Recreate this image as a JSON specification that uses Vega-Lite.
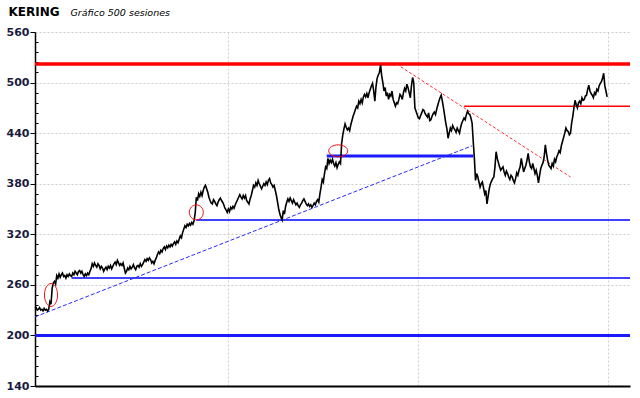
{
"$schema": "https://vega.github.io/schema/vega-lite/v6.json",
"width": 595, "height": 354,
"autosize": "none",
"padding": {"left": 35, "top": 32, "right": 10, "bottom": 12},
"background": "white",
"config": {"view": {"stroke": null}},
"datasets": {
"levels": [
{"kind": "redThick", "s": 0, "s2": 520, "p": 522},
{"kind": "blueThick", "s": 0, "s2": 520, "p": 200},
{"kind": "blueThick", "s": 255, "s2": 383, "p": 413},
{"kind": "blueThin", "s": 32, "s2": 520, "p": 268},
{"kind": "blueThin", "s": 141, "s2": 520, "p": 337},
{"kind": "redThin", "s": 375, "s2": 520, "p": 472}
],
"trends": [
{"kind": "blue", "s": 0, "p": 222, "s2": 382, "p2": 425},
{"kind": "red", "s": 316, "p": 522, "s2": 468, "p2": 388}
],
"price": [
{"s":0,"p":232},{"s":1,"p":233},{"s":2,"p":230},{"s":3,"p":231},{"s":4,"p":233},{"s":5,"p":230},{"s":6,"p":231},{"s":7,"p":229},{"s":8,"p":232},{"s":9,"p":230},
{"s":10,"p":231},{"s":11,"p":229},{"s":12,"p":231},{"s":13,"p":240},{"s":14,"p":237},{"s":15,"p":256},{"s":16,"p":262},{"s":17,"p":264},{"s":18,"p":261},{"s":19,"p":271},
{"s":20,"p":268},{"s":21,"p":273},{"s":22,"p":269},{"s":23,"p":272},{"s":24,"p":274},{"s":25,"p":270},{"s":26,"p":271},{"s":27,"p":268},{"s":28,"p":272},{"s":29,"p":270},
{"s":30,"p":273},{"s":31,"p":271},{"s":32,"p":270},{"s":33,"p":274},{"s":34,"p":272},{"s":35,"p":276},{"s":36,"p":274},{"s":37,"p":272},{"s":38,"p":276},{"s":39,"p":277},
{"s":40,"p":274},{"s":41,"p":276},{"s":42,"p":272},{"s":43,"p":270},{"s":44,"p":273},{"s":45,"p":271},{"s":46,"p":274},{"s":47,"p":272},{"s":48,"p":276},{"s":49,"p":279},
{"s":50,"p":285},{"s":51,"p":282},{"s":52,"p":286},{"s":53,"p":283},{"s":54,"p":281},{"s":55,"p":285},{"s":56,"p":283},{"s":57,"p":279},{"s":58,"p":282},{"s":59,"p":280},
{"s":60,"p":276},{"s":61,"p":279},{"s":62,"p":281},{"s":63,"p":278},{"s":64,"p":282},{"s":65,"p":280},{"s":66,"p":283},{"s":67,"p":279},{"s":68,"p":282},{"s":69,"p":285},
{"s":70,"p":287},{"s":71,"p":284},{"s":72,"p":289},{"s":73,"p":286},{"s":74,"p":283},{"s":75,"p":285},{"s":76,"p":283},{"s":77,"p":286},{"s":78,"p":280},{"s":79,"p":274},
{"s":80,"p":276},{"s":81,"p":280},{"s":82,"p":278},{"s":83,"p":282},{"s":84,"p":279},{"s":85,"p":281},{"s":86,"p":284},{"s":87,"p":280},{"s":88,"p":278},{"s":89,"p":282},
{"s":90,"p":283},{"s":91,"p":281},{"s":92,"p":285},{"s":93,"p":282},{"s":94,"p":284},{"s":95,"p":287},{"s":96,"p":290},{"s":97,"p":288},{"s":98,"p":291},{"s":99,"p":289},
{"s":100,"p":292},{"s":101,"p":290},{"s":102,"p":286},{"s":103,"p":288},{"s":104,"p":285},{"s":105,"p":289},{"s":106,"p":292},{"s":107,"p":296},{"s":108,"p":299},{"s":109,"p":297},
{"s":110,"p":301},{"s":111,"p":299},{"s":112,"p":303},{"s":113,"p":305},{"s":114,"p":302},{"s":115,"p":306},{"s":116,"p":304},{"s":117,"p":307},{"s":118,"p":305},{"s":119,"p":308},
{"s":120,"p":306},{"s":121,"p":309},{"s":122,"p":311},{"s":123,"p":308},{"s":124,"p":312},{"s":125,"p":310},{"s":126,"p":314},{"s":127,"p":318},{"s":128,"p":316},{"s":129,"p":322},
{"s":130,"p":326},{"s":131,"p":330},{"s":132,"p":328},{"s":133,"p":332},{"s":134,"p":330},{"s":135,"p":333},{"s":136,"p":331},{"s":137,"p":334},{"s":138,"p":332},{"s":139,"p":336},
{"s":140,"p":345},{"s":141,"p":364},{"s":142,"p":360},{"s":143,"p":368},{"s":144,"p":365},{"s":145,"p":370},{"s":146,"p":366},{"s":147,"p":372},{"s":148,"p":376},{"s":149,"p":378},
{"s":150,"p":374},{"s":151,"p":370},{"s":152,"p":364},{"s":153,"p":360},{"s":154,"p":357},{"s":155,"p":356},{"s":156,"p":361},{"s":157,"p":359},{"s":158,"p":356},{"s":159,"p":354},
{"s":160,"p":358},{"s":161,"p":361},{"s":162,"p":363},{"s":163,"p":360},{"s":164,"p":358},{"s":165,"p":355},{"s":166,"p":351},{"s":167,"p":349},{"s":168,"p":346},{"s":169,"p":350},
{"s":170,"p":347},{"s":171,"p":352},{"s":172,"p":350},{"s":173,"p":353},{"s":174,"p":351},{"s":175,"p":355},{"s":176,"p":358},{"s":177,"p":361},{"s":178,"p":364},{"s":179,"p":367},
{"s":180,"p":364},{"s":181,"p":362},{"s":182,"p":366},{"s":183,"p":363},{"s":184,"p":366},{"s":185,"p":360},{"s":186,"p":358},{"s":187,"p":356},{"s":188,"p":362},{"s":189,"p":366},
{"s":190,"p":372},{"s":191,"p":378},{"s":192,"p":376},{"s":193,"p":381},{"s":194,"p":378},{"s":195,"p":384},{"s":196,"p":380},{"s":197,"p":377},{"s":198,"p":374},{"s":199,"p":377},
{"s":200,"p":380},{"s":201,"p":378},{"s":202,"p":382},{"s":203,"p":379},{"s":204,"p":384},{"s":205,"p":386},{"s":206,"p":381},{"s":207,"p":379},{"s":208,"p":376},{"s":209,"p":378},
{"s":210,"p":372},{"s":211,"p":366},{"s":212,"p":358},{"s":213,"p":350},{"s":214,"p":344},{"s":215,"p":340},{"s":216,"p":337},{"s":217,"p":348},{"s":218,"p":344},{"s":219,"p":353},
{"s":220,"p":358},{"s":221,"p":362},{"s":222,"p":359},{"s":223,"p":363},{"s":224,"p":360},{"s":225,"p":357},{"s":226,"p":361},{"s":227,"p":358},{"s":228,"p":355},{"s":229,"p":357},
{"s":230,"p":354},{"s":231,"p":352},{"s":232,"p":355},{"s":233,"p":357},{"s":234,"p":360},{"s":235,"p":362},{"s":236,"p":359},{"s":237,"p":356},{"s":238,"p":354},{"s":239,"p":356},
{"s":240,"p":353},{"s":241,"p":355},{"s":242,"p":352},{"s":243,"p":354},{"s":244,"p":357},{"s":245,"p":355},{"s":246,"p":359},{"s":247,"p":361},{"s":248,"p":358},{"s":249,"p":368},
{"s":250,"p":376},{"s":251,"p":385},{"s":252,"p":382},{"s":253,"p":392},{"s":254,"p":400},{"s":255,"p":398},{"s":256,"p":410},{"s":257,"p":404},{"s":258,"p":408},{"s":259,"p":405},
{"s":260,"p":409},{"s":261,"p":404},{"s":262,"p":401},{"s":263,"p":405},{"s":264,"p":399},{"s":265,"p":403},{"s":266,"p":406},{"s":267,"p":404},{"s":268,"p":428},{"s":269,"p":438},
{"s":270,"p":445},{"s":271,"p":451},{"s":272,"p":447},{"s":273,"p":444},{"s":274,"p":446},{"s":275,"p":443},{"s":276,"p":450},{"s":277,"p":455},{"s":278,"p":460},{"s":279,"p":464},
{"s":280,"p":468},{"s":281,"p":472},{"s":282,"p":470},{"s":283,"p":478},{"s":284,"p":475},{"s":285,"p":480},{"s":286,"p":476},{"s":287,"p":483},{"s":288,"p":486},{"s":289,"p":483},
{"s":290,"p":487},{"s":291,"p":482},{"s":292,"p":488},{"s":293,"p":492},{"s":294,"p":496},{"s":295,"p":499},{"s":296,"p":490},{"s":297,"p":478},{"s":298,"p":495},{"s":299,"p":505},
{"s":300,"p":509},{"s":301,"p":512},{"s":302,"p":521},{"s":303,"p":508},{"s":304,"p":500},{"s":305,"p":490},{"s":306,"p":494},{"s":307,"p":484},{"s":308,"p":488},{"s":309,"p":480},
{"s":310,"p":486},{"s":311,"p":484},{"s":312,"p":490},{"s":313,"p":480},{"s":314,"p":476},{"s":315,"p":472},{"s":316,"p":476},{"s":317,"p":475},{"s":318,"p":480},{"s":319,"p":486},
{"s":320,"p":484},{"s":321,"p":480},{"s":322,"p":488},{"s":323,"p":493},{"s":324,"p":490},{"s":325,"p":498},{"s":326,"p":494},{"s":327,"p":488},{"s":328,"p":482},{"s":329,"p":496},
{"s":330,"p":506},{"s":331,"p":500},{"s":332,"p":470},{"s":333,"p":466},{"s":334,"p":462},{"s":335,"p":458},{"s":336,"p":457},{"s":337,"p":461},{"s":338,"p":464},{"s":339,"p":468},
{"s":340,"p":467},{"s":341,"p":463},{"s":342,"p":461},{"s":343,"p":459},{"s":344,"p":464},{"s":345,"p":455},{"s":346,"p":456},{"s":347,"p":460},{"s":348,"p":463},{"s":349,"p":465},
{"s":350,"p":462},{"s":351,"p":468},{"s":352,"p":473},{"s":353,"p":478},{"s":354,"p":482},{"s":355,"p":485},{"s":356,"p":478},{"s":357,"p":470},{"s":358,"p":461},{"s":359,"p":452},
{"s":360,"p":445},{"s":361,"p":434},{"s":362,"p":440},{"s":363,"p":446},{"s":364,"p":443},{"s":365,"p":449},{"s":366,"p":446},{"s":367,"p":444},{"s":368,"p":441},{"s":369,"p":446},
{"s":370,"p":443},{"s":371,"p":440},{"s":372,"p":447},{"s":373,"p":452},{"s":374,"p":455},{"s":375,"p":458},{"s":376,"p":456},{"s":377,"p":462},{"s":378,"p":466},{"s":379,"p":463},
{"s":380,"p":462},{"s":381,"p":458},{"s":382,"p":452},{"s":383,"p":430},{"s":384,"p":410},{"s":385,"p":384},{"s":386,"p":392},{"s":387,"p":388},{"s":388,"p":382},{"s":389,"p":376},
{"s":390,"p":380},{"s":391,"p":382},{"s":392,"p":375},{"s":393,"p":368},{"s":394,"p":372},{"s":395,"p":356},{"s":396,"p":365},{"s":397,"p":374},{"s":398,"p":380},{"s":399,"p":383},
{"s":400,"p":386},{"s":401,"p":388},{"s":402,"p":400},{"s":403,"p":418},{"s":404,"p":410},{"s":405,"p":405},{"s":406,"p":400},{"s":407,"p":396},{"s":408,"p":398},{"s":409,"p":400},
{"s":410,"p":394},{"s":411,"p":390},{"s":412,"p":395},{"s":413,"p":392},{"s":414,"p":388},{"s":415,"p":385},{"s":416,"p":390},{"s":417,"p":388},{"s":418,"p":384},{"s":419,"p":381},
{"s":420,"p":386},{"s":421,"p":393},{"s":422,"p":390},{"s":423,"p":396},{"s":424,"p":400},{"s":425,"p":410},{"s":426,"p":402},{"s":427,"p":394},{"s":428,"p":398},{"s":429,"p":402},
{"s":430,"p":408},{"s":431,"p":416},{"s":432,"p":406},{"s":433,"p":400},{"s":434,"p":398},{"s":435,"p":404},{"s":436,"p":398},{"s":437,"p":392},{"s":438,"p":396},{"s":439,"p":390},
{"s":440,"p":381},{"s":441,"p":390},{"s":442,"p":398},{"s":443,"p":402},{"s":444,"p":405},{"s":445,"p":412},{"s":446,"p":426},{"s":447,"p":416},{"s":448,"p":408},{"s":449,"p":402},
{"s":450,"p":400},{"s":451,"p":398},{"s":452,"p":404},{"s":453,"p":401},{"s":454,"p":409},{"s":455,"p":406},{"s":456,"p":412},{"s":457,"p":415},{"s":458,"p":419},{"s":459,"p":417},
{"s":460,"p":425},{"s":461,"p":430},{"s":462,"p":435},{"s":463,"p":440},{"s":464,"p":446},{"s":465,"p":443},{"s":466,"p":442},{"s":467,"p":438},{"s":468,"p":440},{"s":469,"p":452},
{"s":470,"p":460},{"s":471,"p":470},{"s":472,"p":479},{"s":473,"p":474},{"s":474,"p":470},{"s":475,"p":476},{"s":476,"p":478},{"s":477,"p":475},{"s":478,"p":482},{"s":479,"p":479},
{"s":480,"p":480},{"s":481,"p":484},{"s":482,"p":485},{"s":483,"p":492},{"s":484,"p":497},{"s":485,"p":490},{"s":486,"p":487},{"s":487,"p":485},{"s":488,"p":482},{"s":489,"p":488},
{"s":490,"p":486},{"s":491,"p":492},{"s":492,"p":490},{"s":493,"p":496},{"s":494,"p":499},{"s":495,"p":501},{"s":496,"p":505},{"s":497,"p":511},{"s":498,"p":496},{"s":499,"p":490},
{"s":500,"p":483}
]
},
"encoding": {
"x": {"field": "s", "type": "quantitative", "scale": {"domain": [0, 520], "nice": false, "zero": false},
 "axis": {"values": [169, 335, 501], "labels": false, "ticks": false, "domainColor": "#000000", "domainWidth": 2, "grid": true, "gridColor": "#dcc6dc", "gridDash": [2, 2], "gridWidth": 1,
  "title": "KERING", "titleX": -27, "titleY": -371, "titleAlign": "left", "titleBaseline": "alphabetic", "titleAngle": 0,
  "titleFont": "DejaVu Sans", "titleFontSize": 12, "titleFontWeight": "bold", "titleColor": "#000000"}},
"y": {"field": "p", "type": "quantitative", "scale": {"domain": [140, 560], "nice": false, "zero": false},
 "axis": {"values": [140,152,164,176,188,200,212,224,236,248,260,272,284,296,308,320,332,344,356,368,380,392,404,416,428,440,452,464,476,488,500,512,524,536,548,560],
  "labelExpr": "datum.value % 60 == 20 ? datum.label : ''",
  "tickSize": {"condition": {"test": "datum.value % 60 == 20", "value": 5}, "value": -3},
  "gridOpacity": {"condition": {"test": "datum.value % 60 == 20", "value": 1}, "value": 0},
  "grid": true, "gridColor": "#cccccc", "gridDash": [2, 2], "gridWidth": 1,
  "domainColor": "#000000", "domainWidth": 1.5, "tickColor": "#000000", "tickWidth": 1,
  "labelFont": "DejaVu Sans", "labelFontWeight": "bold", "labelFontSize": 11, "labelColor": "#1a1a40", "labelPadding": 1,
  "title": "Gráfico 500 sesiones", "titleAngle": 0, "titleX": 35, "titleY": -17, "titleAlign": "left", "titleBaseline": "alphabetic",
  "titleFont": "DejaVu Sans", "titleFontStyle": "italic", "titleFontWeight": "normal", "titleFontSize": 9.5, "titleColor": "#000000"}}
},
"layer": [
{"data": {"name": "levels"}, "transform": [{"filter": "datum.kind == 'blueThin'"}], "mark": {"type": "rule", "color": "#0000ff", "strokeWidth": 1.5}, "encoding": {"x2": {"field": "s2"}}},
{"data": {"name": "levels"}, "transform": [{"filter": "datum.kind == 'redThin'"}], "mark": {"type": "rule", "color": "#ff0000", "strokeWidth": 1.5}, "encoding": {"x2": {"field": "s2"}}},
{"data": {"name": "levels"}, "transform": [{"filter": "datum.kind == 'blueThick'"}], "mark": {"type": "rule", "color": "#1a1aff", "strokeWidth": 3}, "encoding": {"x2": {"field": "s2"}}},
{"data": {"name": "levels"}, "transform": [{"filter": "datum.kind == 'redThick'"}], "mark": {"type": "rule", "color": "#ff0000", "strokeWidth": 3.5}, "encoding": {"x2": {"field": "s2"}}},
{"data": {"name": "trends"}, "transform": [{"filter": "datum.kind == 'blue'"}], "mark": {"type": "rule", "color": "#2a2aff", "strokeWidth": 1, "strokeDash": [4, 2]}, "encoding": {"x2": {"field": "s2"}, "y2": {"field": "p2"}}},
{"data": {"name": "trends"}, "transform": [{"filter": "datum.kind == 'red'"}], "mark": {"type": "rule", "color": "#ff3030", "strokeWidth": 1, "strokeDash": [3, 2]}, "encoding": {"x2": {"field": "s2"}, "y2": {"field": "p2"}}},
{"data": {"name": "price"}, "mark": {"type": "line", "color": "#000000", "strokeWidth": 1.6}},
{"data": {"values": [{"s": 14, "p": 248}]}, "mark": {"type": "point", "shape": "M0,-1A0.57,1,0,1,1,0,1A0.57,1,0,1,1,0,-1Z", "size": 529, "filled": false, "color": "#ee1111", "strokeWidth": 1, "opacity": 1}},
{"data": {"values": [{"s": 141, "p": 346}]}, "mark": {"type": "point", "shape": "M0,-1A0.93,1,0,1,1,0,1A0.93,1,0,1,1,0,-1Z", "size": 225, "filled": false, "color": "#ee1111", "strokeWidth": 1, "opacity": 1}},
{"data": {"values": [{"s": 265, "p": 419}]}, "mark": {"type": "point", "shape": "M-1,0A1,0.63,0,1,1,1,0A1,0.63,0,1,1,-1,0Z", "size": 361, "filled": false, "color": "#ee1111", "strokeWidth": 1, "opacity": 1}}
]
}
